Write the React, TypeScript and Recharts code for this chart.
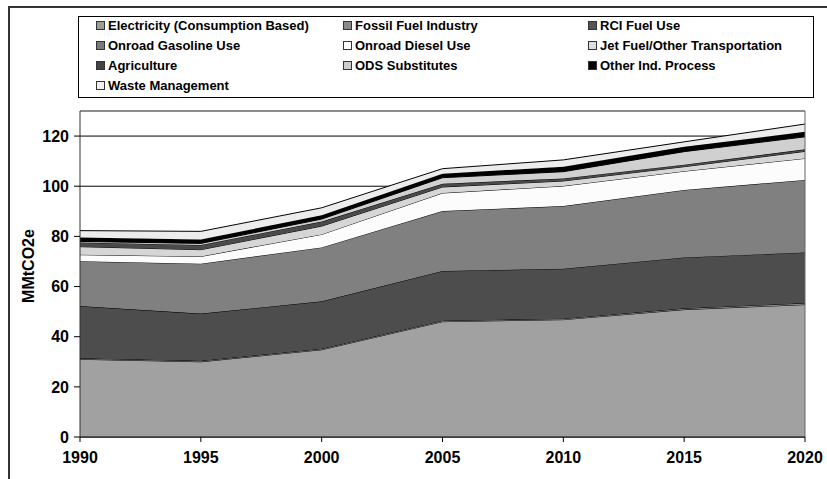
import {Area, AreaChart, CartesianGrid, ReferenceLine, XAxis, YAxis} from "recharts";

const years = [1990, 1995, 2000, 2005, 2010, 2015, 2020];
const yTicks = [0, 20, 40, 60, 80, 100, 120];

const electricity = [31.0, 30.0, 34.8, 46.0, 46.8, 50.8, 52.8];
const fossilFuel = [0.4, 0.4, 0.4, 0.4, 0.4, 0.5, 0.6];
const rciFuel = [20.8, 18.8, 18.9, 19.8, 19.9, 20.3, 20.2];
const onroadGasoline = [17.9, 19.9, 21.5, 23.9, 25.0, 26.9, 28.9];
const onroadDiesel = [2.6, 2.9, 5.2, 7.2, 8.0, 7.5, 8.6];
const jetFuel = [3.2, 2.7, 3.3, 2.4, 2.0, 1.8, 2.8];
const agriculture = [1.7, 1.9, 1.8, 1.3, 1.0, 0.8, 0.8];
const odsSubstitutes = [0.4, 0.6, 1.0, 2.4, 2.7, 5.2, 5.0];
const otherIndProcess = [1.6, 1.6, 1.5, 1.6, 2.0, 1.9, 2.0];
const wasteManagement = [2.7, 3.2, 3.0, 2.0, 2.7, 2.0, 3.1];

interface Series {
    key: string;
    name: string;
    values: number[];
    fill: string;
    swatch: string;
}

// bottom of the stack first, same order as the legend
const series: Series[] = [
    {key: 'elec', name: 'Electricity (Consumption Based)', values: electricity, fill: '#a1a1a1', swatch: '#9c9c9c'},
    {key: 'fossil', name: 'Fossil Fuel Industry', values: fossilFuel, fill: '#8a8a8a', swatch: '#8a8a8a'},
    {key: 'rci', name: 'RCI Fuel Use', values: rciFuel, fill: '#4d4d4d', swatch: '#555555'},
    {key: 'gasoline', name: 'Onroad Gasoline Use', values: onroadGasoline, fill: '#808080', swatch: '#7a7a7a'},
    {key: 'diesel', name: 'Onroad Diesel Use', values: onroadDiesel, fill: '#fcfcfc', swatch: '#ffffff'},
    {key: 'jet', name: 'Jet Fuel/Other Transportation', values: jetFuel, fill: '#d6d6d6', swatch: '#dddddd'},
    {key: 'agri', name: 'Agriculture', values: agriculture, fill: '#4a4a4a', swatch: '#444444'},
    {key: 'ods', name: 'ODS Substitutes', values: odsSubstitutes, fill: '#d0d0d0', swatch: '#cccccc'},
    {key: 'other', name: 'Other Ind. Process', values: otherIndProcess, fill: '#000000', swatch: '#000000'},
    {key: 'waste', name: 'Waste Management', values: wasteManagement, fill: '#ececec', swatch: '#f0f0f0'},
];

const data = years.map((year, i) => {
    const row: Record<string, number> = {year};
    series.forEach(s => row[s.key] = s.values[i]);
    return row;
});

const FONT = "'Liberation Sans', Arial, Helvetica, sans-serif";

const legendCols = [96, 343, 588];
const legendRows = [25, 45, 65, 85];

function LegendBox() {
    return <div style={{
        position: 'absolute', left: 78, top: 16, width: 734, height: 80,
        border: '1px solid #000', background: '#fff',
    }}>
        {series.map((s, i) => (
            <div key={s.key} style={{
                position: 'absolute',
                left: legendCols[i % 3] - 79,
                top: legendRows[Math.floor(i / 3)] - 17 - 8,
                height: 16, display: 'flex', alignItems: 'center',
                fontFamily: FONT, fontWeight: 'bold', fontSize: 13, color: '#000', whiteSpace: 'nowrap',
            }}>
                <span style={{
                    display: 'inline-block', width: 7, height: 7, marginRight: 3,
                    border: '1px solid #333', background: s.swatch,
                }}/>
                {s.name}
            </div>
        ))}
    </div>
}

function YTitle() {
    return <text x={28} y={266} transform="rotate(-90 28 266)" textAnchor="middle" dominantBaseline="central"
                 fontFamily={FONT} fontWeight="bold" fontSize={16} fill="#000">MMtCO2e</text>
}

export default function App() {
    const tickStyle = {fill: '#000', fontFamily: FONT, fontWeight: 'bold', fontSize: 16};

    return <div style={{position: 'absolute', left: 0, top: 0, width: 827, height: 479, overflow: 'hidden', background: '#fff'}}>
        <div style={{position: 'absolute', left: 8, top: 6, width: 900, height: 600, borderLeft: '2px solid #333', borderTop: '2px solid #333'}}/>
        <div style={{position: 'absolute', left: 0, top: 0}}>
            <AreaChart width={827} height={479} data={data} margin={{top: 111, right: 22, bottom: 0, left: 20}}>
                <CartesianGrid vertical={false} stroke="#000"/>
                {series.map(s => (
                    <Area key={s.key} type="linear" dataKey={s.key} name={s.name} stackId="1"
                          stroke="#000" strokeWidth={1} fill={s.fill} fillOpacity={1}
                          dot={false} activeDot={false} isAnimationActive={false}/>
                ))}
                <ReferenceLine y={130} stroke="#999"/>
                <ReferenceLine x={2020} stroke="#666"/>
                <XAxis dataKey="year" height={42} tick={tickStyle} tickSize={5} tickMargin={10}
                       axisLine={{stroke: '#000'}} tickLine={{stroke: '#000'}}/>
                <YAxis width={60} domain={[0, 130]} ticks={yTicks} tick={tickStyle} tickSize={6} tickMargin={5}
                       axisLine={{stroke: '#333'}} tickLine={{stroke: '#000'}} label={<YTitle/>}/>
            </AreaChart>
        </div>
        <LegendBox/>
    </div>
}
